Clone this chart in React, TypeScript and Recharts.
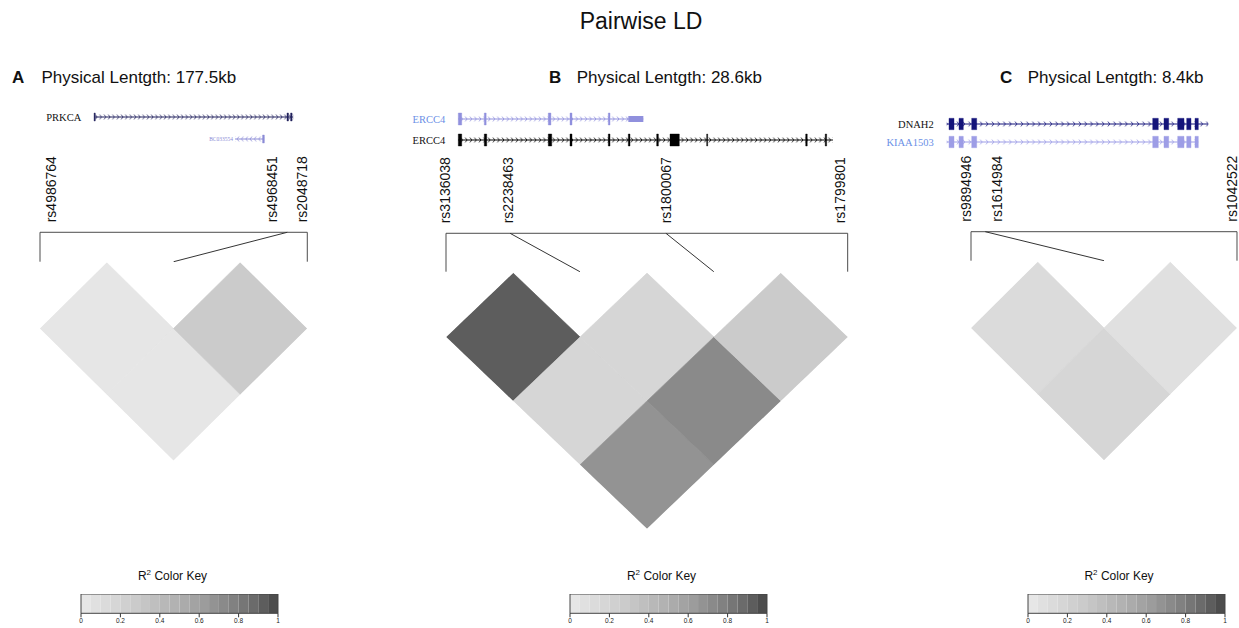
import React from "react";
import { ComposedChart, XAxis, YAxis, ReferenceArea, ReferenceLine } from "recharts";

const SANS = "'Liberation Sans', Arial, sans-serif";
const SERIF = "'Liberation Serif', 'Times New Roman', serif";

// ---- SNPs ----
const snpsA = ["rs4986764", "rs4968451", "rs2048718"];
const snpsB = ["rs3136038", "rs2238463", "rs1800067", "rs1799801"];
const snpsC = ["rs9894946", "rs1614984", "rs1042522"];

// physical position, kb from the first SNP
const posA = [0, 164.2, 177.5];
const posB = [0, 4.56, 15.66, 28.6];
const posC = [0, 0.45, 8.4];

// where each rotated name is written (kb), pushed apart so they don't overlap
const labelAtA = [10.6, 157.4, 177.5];
const labelAtB = [0.28, 4.77, 16.0, 28.4];
const labelAtC = [0.01, 0.99, 8.4];

// r2 values, row i = pairs (i,i+1), (i,i+2), ...
const ldA = [[0.04, 0.04], [0.27]];
const ldB = [[0.92, 0.18, 0.67], [0.18, 0.72], [0.27]];
const ldC = [[0.11, 0.17], [0.06]];

const keyTicks = [0, 0.2, 0.4, 0.6, 0.8, 1];

// ---- gene tracks (kb, same axis as the SNPs) ----
const genesA = [
  { name: "PRKCA", row: 0, start: 36.06, end: 168.2, strand: 1, color: "#23235e", label: "#111",
    exons: [[35.9, 36.7], [164.0, 165.0], [166.4, 167.4]], utr: [] as number[][], size: 10.5, gap: 13 },
  { name: "BC033554", row: 1, start: 129.5, end: 148.96, strand: -1, color: "#8c8cd6", label: "#8c8cd6",
    exons: [[147.8, 148.96]], utr: [] as number[][], size: 5.5, gap: 2 },
];
const genesB = [
  { name: "ERCC4", row: 0, start: 0.876, end: 14.05, strand: 1, color: "#9090dd", label: "#6b8fe6",
    exons: [[0.876, 1.118], [2.727, 2.86], [7.284, 7.47], [8.829, 8.971], [11.556, 11.677]],
    utr: [[12.98, 14.05]], size: 10.5, gap: 13 },
  { name: "ERCC4", row: 1, start: 0.876, end: 27.55, strand: 1, color: "#000", label: "#111",
    exons: [[0.876, 1.118], [2.727, 2.898], [7.284, 7.526], [8.829, 8.971], [11.556, 11.677],
      [12.98, 13.1], [15.0, 15.12], [15.95, 16.61], [18.56, 18.63], [25.61, 25.72], [27.0, 27.1]],
    utr: [] as number[][], size: 10.5, gap: 13 },
];
const exonsC = [[-0.685, -0.527], [-0.369, -0.234], [0.032, 0.189], [5.748, 5.924],
  [6.104, 6.253], [6.537, 6.736], [6.821, 6.957], [7.083, 7.188]];
const genesC = [
  { name: "DNAH2", row: 0, start: -0.758, end: 7.503, strand: 1, color: "#14147a", label: "#111",
    exons: exonsC, utr: [] as number[][], size: 10.5, gap: 13 },
  { name: "KIAA1503", row: 1, start: -0.758, end: 7.188, strand: 1, color: "#9d9de6", label: "#6b8fe6",
    exons: exonsC, utr: [] as number[][], size: 10.5, gap: 13 },
];

const panels = [
  { id: "A", title: "Physical Lentgth: 177.5kb", len: 177.5, snps: snpsA, pos: posA, labelAt: labelAtA, ld: ldA, genes: genesA,
    letterX: 12, titleX: 41.5, left: 40, right: 307.3, bracketY: 232.3, heatTop: 262.7, cellH: 132,
    rowY: [116.7, 139], trackL: 30, trackR: 312, exonH: 4, chev: 4.3, keyLeft: 81 },
  { id: "B", title: "Physical Lentgth: 28.6kb", len: 28.6, snps: snpsB, pos: posB, labelAt: labelAtB, ld: ldB, genes: genesB,
    letterX: 549, titleX: 576.7, left: 446, right: 847.7, bracketY: 233.3, heatTop: 272.7, cellH: 127.8,
    rowY: [119.3, 140.3], trackL: 400, trackR: 852, exonH: 6, chev: 4.6, keyLeft: 570 },
  { id: "C", title: "Physical Lentgth: 8.4kb", len: 8.4, snps: snpsC, pos: posC, labelAt: labelAtC, ld: ldC, genes: genesC,
    letterX: 1000, titleX: 1027.7, left: 970.7, right: 1236.7, bracketY: 231.7, heatTop: 261.7, cellH: 132.2,
    rowY: [124.3, 142], trackL: 875, trackR: 1225, exonH: 5.7, chev: 5.8, keyLeft: 1027.5 },
];

type Panel = (typeof panels)[number];

// LDheatmap default palette: grey.colors(20), light for 0, dark for 1
const NBINS = 20;
function greyBin(k: number) {
  const a = Math.pow(0.9, 2.2);
  const b = Math.pow(0.3, 2.2);
  const v = Math.pow(a + ((b - a) * k) / (NBINS - 1), 1 / 2.2);
  const c = Math.round(v * 255);
  return `rgb(${c},${c},${c})`;
}
const ldColor = (r: number) => greyBin(Math.min(NBINS - 1, Math.floor(r * NBINS)));

const noMargin = { top: 0, right: 0, bottom: 0, left: 0 };

function Heatmap({ p }: { p: Panel }) {
  const n = p.snps.length;
  const w = (p.right - p.left) / (n - 1);
  const side = ((n - 1) * w) / Math.SQRT2;
  const cx = p.left + ((n - 1) * w) / 2;
  const cy = p.heatTop + p.cellH / 2;
  const cells: { i: number; j: number; r2: number }[] = [];
  p.ld.forEach((row, i) => row.forEach((r2, d) => cells.push({ i, j: i + d + 1, r2 })));
  return (
    <div
      style={{
        position: "absolute", left: cx - side / 2, top: cy - side / 2, width: side, height: side,
        transform: `scaleY(${p.cellH / w}) rotate(-45deg)`, transformOrigin: "50% 50%",
      }}
    >
      <ComposedChart width={side} height={side} data={cells} margin={noMargin}>
        <XAxis type="number" dataKey="i" domain={[0, n - 1]} allowDataOverflow hide />
        <YAxis type="number" dataKey="j" domain={[0, n - 1]} allowDataOverflow reversed hide />
        {cells.map((c) => (
          <ReferenceArea key={`${c.i}-${c.j}`} x1={c.i} x2={c.i + 1} y1={c.j - 1} y2={c.j}
            fill={ldColor(c.r2)} fillOpacity={1} stroke={ldColor(c.r2)} strokeWidth={0.6} />
        ))}
      </ComposedChart>
    </div>
  );
}

function Bracket({ p }: { p: Panel }) {
  const n = p.snps.length;
  const pad = 24;
  const top = 148;
  const axisH = p.bracketY - top;
  const plotH = p.heatTop - 1 - p.bracketY;
  const step = p.len / (n - 1);
  const labelY = axisH - 10;
  const rows = p.pos.map((x, k) => ({ x, y: k === 0 ? 0 : 1 }));
  const SnpTick = (props: any) => {
    const { x, payload, index } = props;
    let k = p.labelAt.indexOf(payload.value);
    if (k < 0) k = index;
    return (
      <text x={x} y={labelY} transform={`rotate(-90 ${x} ${labelY})`} fontSize={14}
        fontFamily={SANS} fill="#111" textAnchor="start">
        {p.snps[k]}
      </text>
    );
  };
  return (
    <div style={{ position: "absolute", left: p.left - pad, top }}>
      <ComposedChart width={p.right - p.left + 2 * pad} height={axisH + plotH} data={rows}
        margin={{ top: 0, right: pad, bottom: 0, left: pad }}>
        <XAxis type="number" dataKey="x" orientation="top" domain={[0, p.len]} allowDataOverflow ticks={p.labelAt}
          interval={0} height={axisH} axisLine={false} tickLine={false} tick={SnpTick} />
        <YAxis type="number" dataKey="y" domain={[0, 1]} allowDataOverflow reversed hide />
        <ReferenceLine segment={[{ x: 0, y: 0 }, { x: p.len, y: 0 }]} stroke="#4a4a4a" strokeWidth={1} />
        <ReferenceLine segment={[{ x: 0, y: 0 }, { x: 0, y: 1 }]} stroke="#4a4a4a" strokeWidth={1} />
        <ReferenceLine segment={[{ x: p.len, y: 0 }, { x: p.len, y: 1 }]} stroke="#4a4a4a" strokeWidth={1} />
        {p.pos.slice(1, n - 1).map((v, k) => (
          <ReferenceLine key={k} segment={[{ x: v, y: 0 }, { x: (k + 1) * step, y: 1 }]}
            stroke="#333" strokeWidth={1} />
        ))}
      </ComposedChart>
    </div>
  );
}

function Track({ p, g, gi }: { p: Panel; g: Panel["genes"][number]; gi: number }) {
  const H = 16;
  const kbPerPx = p.len / (p.right - p.left);
  const d0 = (p.trackL - p.left) * kbPerPx;
  const d1 = (p.trackR - p.left) * kbPerPx;
  const id = `chev-${p.id}-${gi}`;
  const m = H / 2;
  const chev = g.strand > 0
    ? `M0.8,${m - 2.6} L2.7,${m} L0.8,${m + 2.6}`
    : `M2.7,${m - 2.6} L0.8,${m} L2.7,${m + 2.6}`;
  const eh = p.exonH / H;
  const rows = g.exons.map((e) => ({ x: e[0], y: 0.5 }));
  return (
    <div style={{ position: "absolute", left: p.trackL, top: p.rowY[g.row] - H / 2 }}>
      <ComposedChart width={p.trackR - p.trackL} height={H} margin={noMargin} data={rows}>
        <defs>
          <pattern id={id} patternUnits="userSpaceOnUse" width={p.chev} height={H}>
            <path d={chev} fill="none" stroke={g.color} strokeWidth={0.8} />
          </pattern>
        </defs>
        <XAxis type="number" dataKey="x" domain={[d0, d1]} allowDataOverflow hide />
        <YAxis type="number" dataKey="y" domain={[0, 1]} allowDataOverflow hide />
        <ReferenceLine segment={[{ x: g.start, y: 0.5 }, { x: g.end, y: 0.5 }]} stroke={g.color} strokeWidth={1} />
        <ReferenceArea x1={g.start} x2={g.end} y1={0.5 - 2.8 / H} y2={0.5 + 2.8 / H}
          fill={`url(#${id})`} fillOpacity={1} stroke="none"
          label={{ value: g.name, position: "left", offset: g.gap, fill: g.label, fontSize: g.size, fontFamily: SERIF }} />
        {g.exons.map((e, k) => (
          <ReferenceArea key={`e${k}`} x1={e[0]} x2={e[1]} y1={0.5 - eh} y2={0.5 + eh}
            fill={g.color} fillOpacity={1} stroke={g.color} strokeWidth={0.4} />
        ))}
        {g.utr.map((e, k) => (
          <ReferenceArea key={`u${k}`} x1={e[0]} x2={e[1]} y1={0.5 - eh / 2} y2={0.5 + eh / 2}
            fill={g.color} fillOpacity={1} stroke="none" />
        ))}
      </ComposedChart>
    </div>
  );
}

const KEY_W = 197;
const KEY_TOP = 594;
const KEY_BAR_H = 19.3;

function ColorKey({ left }: { left: number }) {
  const bins = Array.from({ length: NBINS }, (_, k) => ({ x: k / NBINS, y: 0.5, k }));
  const pad = 8;
  return (
    <div style={{ position: "absolute", left: left - pad, top: KEY_TOP }}>
      <ComposedChart width={KEY_W + 2 * pad} height={KEY_BAR_H + 16} data={bins}
        margin={{ top: 0, right: pad, bottom: 0, left: pad }}>
        <XAxis type="number" dataKey="x" domain={[0, 1]} allowDataOverflow ticks={keyTicks} interval={0} height={16}
          axisLine={false} tickSize={4} tickMargin={1} tickLine={{ stroke: "#333" }}
          tick={{ fontSize: 6.5, fill: "#222", fontFamily: SANS }} tickFormatter={(v: number) => String(v)} />
        <YAxis type="number" dataKey="y" domain={[0, 1]} allowDataOverflow hide />
        {bins.map((b) => (
          <ReferenceArea key={b.k} x1={b.k / NBINS} x2={(b.k + 1) / NBINS} y1={0} y2={1}
            fill={greyBin(b.k)} fillOpacity={1} stroke="none" />
        ))}
        <ReferenceArea x1={0} x2={1} y1={0} y2={1} fill="none" fillOpacity={0} stroke="#444" strokeWidth={1} />
      </ComposedChart>
    </div>
  );
}

export default function App() {
  return (
    <div style={{ position: "absolute", left: 0, top: 0, width: 1239, height: 628, overflow: "hidden", background: "#fff" }}>
      {panels.map((p) => (
        <React.Fragment key={p.id}>
          {p.genes.map((g, gi) => <Track key={gi} p={p} g={g} gi={gi} />)}
          <Bracket p={p} />
          <Heatmap p={p} />
          <ColorKey left={p.keyLeft} />
        </React.Fragment>
      ))}
      <svg width={1239} height={628} style={{ position: "absolute", left: 0, top: 0, pointerEvents: "none" }}>
        <text x={641} y={29} textAnchor="middle" fontSize={23} fontFamily={SANS} fill="#111">Pairwise LD</text>
        {panels.map((p) => (
          <g key={p.id}>
            <text x={p.letterX} y={83} fontSize={17} fontWeight="bold" fontFamily={SANS} fill="#111">{p.id}</text>
            <text x={p.titleX} y={83} fontSize={17} fontFamily={SANS} fill="#111">{p.title}</text>
            <text x={p.keyLeft + KEY_W / 2 - 7} y={580} textAnchor="middle" fontSize={12} fontFamily={SANS} fill="#111">
              R<tspan dy={-5} fontSize={8}>2</tspan><tspan dy={5}> Color Key</tspan>
            </text>
          </g>
        ))}
      </svg>
    </div>
  );
}
